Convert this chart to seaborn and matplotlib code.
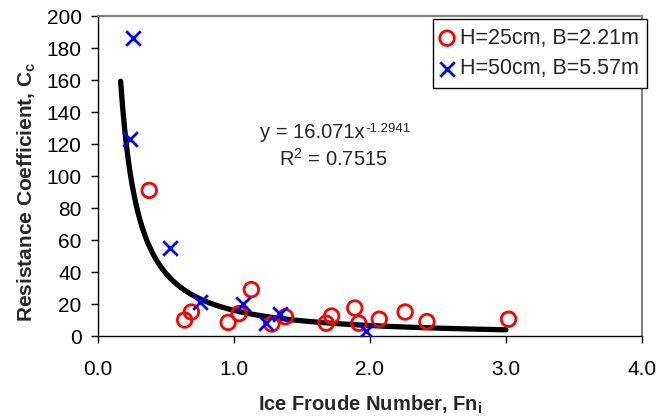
import matplotlib
matplotlib.use("Agg")
import matplotlib.pyplot as plt
import seaborn as sns
import numpy as np
import pandas as pd

# ---- data ----
fn_25 = [0.38, 0.64, 0.69, 0.96, 1.04, 1.13, 1.28, 1.38, 1.68, 1.72, 1.89, 1.92, 2.07, 2.26, 2.42, 3.02]
cc_25 = [91, 10, 15, 8.5, 14, 29, 7.5, 12, 8, 12.5, 17.5, 8, 10.5, 15, 9, 10.5]
fn_50 = [0.26, 0.24, 0.53, 0.75, 1.07, 1.24, 1.34, 1.97]
cc_50 = [186, 123, 55, 21, 20, 8, 14, 3]
label_25 = "H=25cm, B=2.21m"
label_50 = "H=50cm, B=5.57m"
fit_coef = 16.071
fit_exp = -1.2941
fit_r2 = 0.7515
fit_range = (0.17, 3.0)
x_ticks = [0.0, 1.0, 2.0, 3.0, 4.0]
y_ticks = [0, 20, 40, 60, 80, 100, 120, 140, 160, 180, 200]

sns.set_style("white")
plt.rcParams["font.family"] = ["Liberation Sans", "DejaVu Sans"]
plt.rcParams["mathtext.fontset"] = "custom"
plt.rcParams["mathtext.rm"] = "Liberation Sans"
plt.rcParams["mathtext.it"] = "Liberation Sans:italic"
plt.rcParams["mathtext.bf"] = "Liberation Sans:bold"

df = pd.DataFrame({
    "Fn": fn_25 + fn_50,
    "Cc": cc_25 + cc_50,
    "series": [label_25] * len(fn_25) + [label_50] * len(fn_50),
})

xs = np.linspace(fit_range[0], fit_range[1], 400)
fit_df = pd.DataFrame({"Fn": xs, "Cc": fit_coef * xs ** fit_exp})

fig = plt.figure(figsize=(6.57, 4.17), dpi=100)
ax = fig.add_axes([97.5 / 657, 1 - 336 / 417, (642 - 97.5) / 657, 320 / 417])

sns.lineplot(data=fit_df, x="Fn", y="Cc", color="black", linewidth=3.8, ax=ax,
             legend=False, solid_capstyle="round")

sub25 = df[df.series == label_25]
sub50 = df[df.series == label_50]
sns.scatterplot(data=sub25, x="Fn", y="Cc", marker="o", s=110, facecolor="none",
                edgecolor="#ff0000", linewidth=2, ax=ax, label=label_25, zorder=3)
sns.scatterplot(data=sub50, x="Fn", y="Cc", marker="x", s=110, color="#0000ff",
                linewidth=2, ax=ax, label=label_50, zorder=3)

ax.set_xlim(0, 4)
ax.set_ylim(0, 200)
ax.set_xticks(x_ticks)
ax.set_xticklabels([f"{t:.1f}" for t in x_ticks])
ax.set_yticks(y_ticks)
ax.set_yticklabels([str(t) for t in y_ticks])
ax.tick_params(axis="both", which="major", direction="out", length=5, width=1,
               color="black", labelsize=15, labelcolor="black")
ax.tick_params(axis="x", pad=12)
ax.tick_params(axis="y", pad=6.5)
ax.xaxis.set_ticks_position("bottom")
ax.yaxis.set_ticks_position("left")

for side in ["left", "bottom"]:
    ax.spines[side].set_color("black")
    ax.spines[side].set_linewidth(1.0)
for side in ["top", "right"]:
    ax.spines[side].set_color("#808080")
    ax.spines[side].set_linewidth(1.5)

ax.set_xlabel(r"Ice Froude Number, Fn$_{\mathbf{i}}$", fontsize=14.5, fontweight="bold")
ax.set_ylabel(r"Resistance Coefficient, C$_{\mathbf{c}}$", fontsize=15, fontweight="bold")
ax.xaxis.set_label_coords(0.5, -0.18)
ax.yaxis.set_label_coords(-0.11, 0.45)

t1 = ax.text(1.58, 127, f"y = {fit_coef}x", fontsize=14.5, ha="center", va="center")
ax.annotate(f"{fit_exp}", xy=(1.0, 0.72), xycoords=t1, fontsize=9.5,
            ha="left", va="center")
ax.text(1.73, 111, f"R$^2$ = {fit_r2}", fontsize=14.5, ha="center", va="center")

leg = ax.legend(loc="upper right", bbox_to_anchor=(1.01, 0.99), fontsize=15.5,
                frameon=True, fancybox=False, edgecolor="black", framealpha=1,
                handletextpad=0.35, handlelength=0.5, borderpad=0.4, labelspacing=0.45,
                borderaxespad=0)
leg.get_frame().set_linewidth(1.0)

fig.savefig("out.png", dpi=100)
